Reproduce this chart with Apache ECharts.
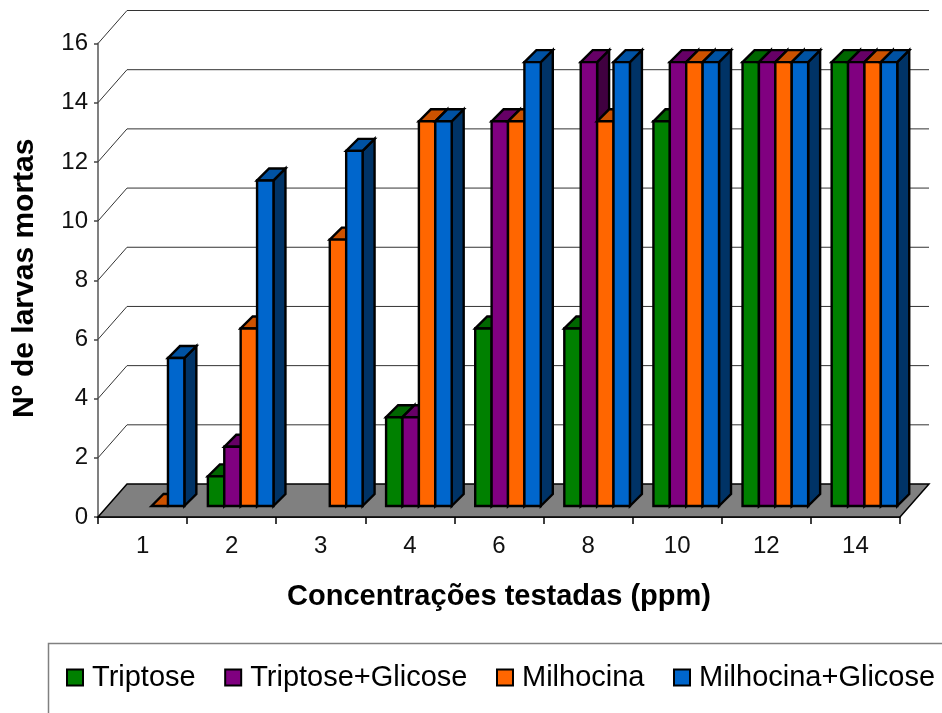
<!DOCTYPE html>
<html><head><meta charset="utf-8">
<style>html,body{margin:0;padding:0;background:#fff}#c{width:942px;height:713px}</style>
<script src="https://cdn.jsdelivr.net/npm/echarts@6/dist/echarts.min.js"></script>
</head><body><div id="c"></div>
<script>
var categories = ['1','2','3','4','6','8','10','12','14'];
var triptose = [null,1,null,3,6,6,13,15,15];
var triptoseGlicose = [null,2,null,3,13,15,15,15,15];
var milhocina = [0,6,9,13,13,13,15,15,15];
var milhocinaGlicose = [5,11,12,13,15,15,15,15,15];
var yTicks = [0,2,4,6,8,10,12,14,16];

var FONT = '"Liberation Sans", Arial, sans-serif';
var WALL_DX = 29, WALL_DY = 33, BAR_DX = 9, BAR_DY = 11, TOP_D = 12, BAR_W = 16.4;

function pts(a){ return {type:'polygon', shape:{points:a.points}, style:{fill:a.fill, stroke:'#000', lineWidth:2.4, lineJoin:'miter'}}; }

function barSeries(name, values, idx, front, top, side){
  return {
    type:'custom', name:name, coordinateSystem:'cartesian2d', z:5+idx,
    itemStyle:{color:front},
    data: values.map(function(v,i){ return [i, v]; }),
    encode:{x:0,y:1},
    renderItem:function(params, api){
      var raw = api.value(1);
      if (raw === null || raw === undefined || isNaN(raw)) return;
      var c = api.coord([api.value(0), raw]);
      var b = api.coord([api.value(0), 0]);
      var l = c[0] + BAR_DX + (idx-2)*BAR_W, r = l + BAR_W;
      var t = c[1] - BAR_DY, u = b[1] - BAR_DY;
      var kids = [];
      kids.push(pts({points:[[r,u],[r+TOP_D,u-TOP_D],[r+TOP_D,t-TOP_D],[r,t]], fill:side}));
      kids.push(pts({points:[[l,t],[l+TOP_D,t-TOP_D],[r+TOP_D,t-TOP_D],[r,t]], fill:top}));
      if (raw > 0) kids.push(pts({points:[[l,u],[r,u],[r,t],[l,t]], fill:front}));
      return {type:'group', children:kids};
    }
  };
}

var wall = {
  type:'custom', coordinateSystem:'cartesian2d', z:1, silent:true, legendHoverLink:false,
  data: yTicks.map(function(v){ return [0, v]; }),
  encode:{x:0,y:1},
  renderItem:function(params, api){
    var v = api.value(1);
    var cs = params.coordSys;
    var p = api.coord([0, v]);
    var x0 = cs.x, y0 = p[1];
    var kids = [];
    if (v === 0) {
      kids.push({type:'polygon', shape:{points:[[x0,y0],[x0+WALL_DX,y0-WALL_DY],[x0+cs.width+WALL_DX,y0-WALL_DY],[x0+cs.width,y0]]},
        style:{fill:'#808080', stroke:'#000', lineWidth:1.5}});
    } else {
      kids.push({type:'polyline', shape:{points:[[x0,y0],[x0+WALL_DX,y0-WALL_DY],[x0+cs.width+WALL_DX,y0-WALL_DY]]},
        style:{fill:'none', stroke:'#333', lineWidth:1}});
    }
    return {type:'group', children:kids};
  }
};

var option = {
  backgroundColor:'#fff',
  animation:false,
  textStyle:{fontFamily:FONT},
  grid:{left:98, top:43.5, width:802, height:473.5, containLabel:false},
  graphic:[{type:'polyline', silent:true, z:0,
    shape:{points:[[48.5,713],[48.5,643.5],[942,643.5]]},
    style:{fill:'none', stroke:'#808080', lineWidth:1.5}}],
  legend:{
    left:48, top:643, orient:'horizontal', width:1000,
    padding:[20,0,0,18],
    itemWidth:16, itemHeight:16, itemGap:28.5, icon:'rect',
    itemStyle:{borderColor:'#000', borderWidth:2},
    textStyle:{fontSize:29, color:'#000', fontFamily:FONT, padding:[0,0,0,4]},
    data:['Triptose','Triptose+Glicose','Milhocina','Milhocina+Glicose'],
    selectedMode:false
  },
  xAxis:{
    type:'category', data:categories, boundaryGap:true,
    axisLine:{show:true, lineStyle:{color:'#000', width:1.5}},
    axisTick:{show:true, length:7, lineStyle:{color:'#000', width:1.5}},
    axisLabel:{fontSize:24, color:'#111', margin:17, fontFamily:FONT},
    splitLine:{show:false},
    name:'Concentrações testadas (ppm)', nameLocation:'middle', nameGap:65,
    nameTextStyle:{fontSize:29, fontWeight:'bold', color:'#000', fontFamily:FONT}
  },
  yAxis:{
    type:'value', min:0, max:16, interval:2,
    axisLine:{show:true, lineStyle:{color:'#808080', width:2}},
    axisTick:{show:true, length:4, lineStyle:{color:'#444', width:1.5}},
    axisLabel:{fontSize:24, color:'#111', margin:10, fontFamily:FONT},
    splitLine:{show:false},
    name:'Nº de larvas mortas', nameLocation:'middle', nameGap:58, nameRotate:90,
    nameTextStyle:{fontSize:30, fontWeight:'bold', color:'#000', fontFamily:FONT, padding:[0,0,0,4]}
  },
  series:[
    wall,
    barSeries('Triptose', triptose, 0, '#008000', '#006600', '#004000'),
    barSeries('Triptose+Glicose', triptoseGlicose, 1, '#800080', '#660066', '#400040'),
    barSeries('Milhocina', milhocina, 2, '#FF6600', '#CC5200', '#803300'),
    barSeries('Milhocina+Glicose', milhocinaGlicose, 3, '#0066CC', '#0052A3', '#003366')
  ]
};
var chart = echarts.init(document.getElementById('c'), null, {renderer:'canvas', width:942, height:713});
chart.setOption(option);
</script></body></html>
